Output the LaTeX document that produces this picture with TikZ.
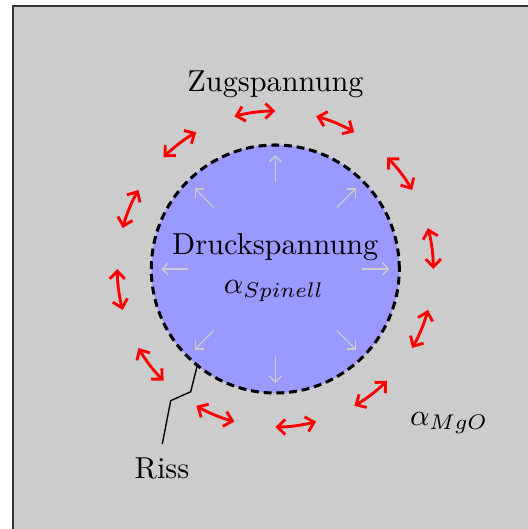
\documentclass[tikz,border=0pt]{standalone}
\usetikzlibrary{calc,arrows.meta}
\begin{document}
\begin{tikzpicture}[x=0.33pt,y=0.33pt,
  frame/.style={fill=black!20,draw=black!80,line width=0.7pt},
  grain/.style={fill=blue!40,draw=black,line width=1pt,dash pattern=on 2.6pt off 1.6pt},
  redarr/.style={red,line width=0.95pt,{Straight Barb[length=2.6pt,width=5pt]}-{Straight Barb[length=2.6pt,width=5pt]}},
  grayarr/.style={black!20,line width=0.4pt,-{Straight Barb[length=2pt,width=4pt]}},
  crack/.style={black,line width=0.45pt},
  lbl/.style={inner sep=0pt,anchor=base}]
\useasboundingbox (0,0) rectangle (528,529);
\clip (0,0) rectangle (528,529);
\draw[frame] (13,523) rectangle (560,-30);
\coordinate (c) at (275.3,260);
\draw[grain] (c) circle[radius=124];
% compressive arrows inside the grain
\foreach \a in {0,45,...,315}{
  \draw[grayarr] ($(c)+(\a:87)$) -- ($(c)+(\a:114)$);
}
% tensile arrows around the grain
\foreach \k in {0,...,11}{
  \pgfmathsetmacro{\sa}{30*\k}
  \pgfmathsetmacro{\ea}{30*\k+15}
  \draw[redarr] ($(c)+(\sa:158)$) arc[start angle=\sa, end angle=\ea, radius=158];
}
\node[lbl] (zug) at (275.5,437.3) {Zugspannung};
\node[lbl] (druck) at (275.3,274) {Druckspannung};
\node[lbl] (aspin) at (274,236) {$\alpha_{Spinell}$};
\node[lbl] (amgo) at (449,104) {$\alpha_{MgO}$};
\node[lbl] (riss) at (162,51) {Riss};
% crack
\coordinate (k0) at ($(c)+(-129:124)$);
\coordinate (k1) at (190.7,137.3);
\coordinate (k2) at (170.7,128.3);
\coordinate (k3) at (162.3,85);
\draw[crack] (k0) -- (k1) -- (k2) -- (k3);
\end{tikzpicture}
\end{document}
